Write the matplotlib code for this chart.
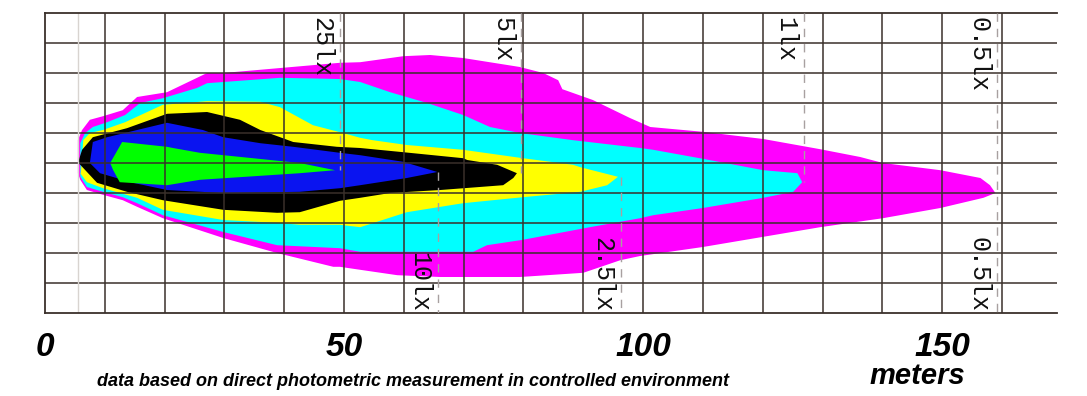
import numpy as np
from matplotlib import pyplot as plt

# Isolux contours, distance along beam (m) and lateral offset (m)
magenta_x = [5.5, 5.5, 6.2, 7.5, 9.7, 13.0, 15.4, 20.4, 27.1, 29.8, 49.3, 52.7, 59.9, 64.4, 69.9,
             79.4, 83.3, 85.8, 86.5, 91.6, 97.8, 101.2, 110.0, 120.1, 129.6, 136.3, 140.1, 149.7,
             156.4, 158.0, 158.9, 156.9, 149.7, 140.1, 129.6, 120.1, 110.0, 99.5, 96.2, 90.0,
             79.4, 66.1, 58.9, 52.7, 49.3, 48.2, 38.8, 29.8, 19.7, 15.4, 13.0, 9.7, 7.0, 5.9]
magenta_y = [-1.7, 3.8, 5.5, 7.2, 7.8, 8.8, 11.0, 11.8, 15.0, 15.0, 16.7, 16.8, 17.8, 18.0, 17.5,
             16.0, 15.0, 13.8, 12.3, 10.5, 7.5, 6.0, 5.2, 4.0, 2.3, 1.0, 0.0, -1.2,
             -2.5, -3.7, -5.0, -5.8, -7.5, -9.2, -10.7, -12.3, -14.0, -15.5, -16.2, -18.3,
             -19.0, -19.0, -18.7, -17.8, -17.3, -17.3, -15.0, -12.5, -9.2, -7.3, -6.2, -5.3, -4.5, -2.8]

cyan_x = [5.9, 5.9, 6.7, 8.0, 10.4, 13.4, 15.9, 19.7, 25.4, 27.1, 29.8, 39.3, 49.3, 52.7, 57.7,
          63.9, 69.9, 74.4, 79.4, 88.3, 99.5, 101.7, 110.0, 120.1, 125.8, 126.6, 125.1, 120.1,
          110.0, 101.7, 99.5, 91.1, 79.9, 73.9, 71.6, 60.5, 52.7, 49.3, 38.8, 29.8, 19.7, 15.4,
          13.0, 9.7, 7.0]
cyan_y = [-2.3, 3.3, 5.0, 6.0, 6.8, 8.0, 10.0, 10.8, 12.5, 13.3, 13.5, 14.2, 14.0, 13.5, 11.8,
          10.0, 8.0, 6.0, 5.0, 3.8, 2.5, 2.2, 0.7, -1.2, -1.7, -3.2, -4.8, -5.8,
          -7.5, -8.7, -9.2, -10.7, -12.8, -13.7, -14.8, -14.8, -14.8, -14.2, -13.7, -11.5, -8.7, -6.7,
          -5.7, -4.8, -4.0]

yellow_x = [6.0, 6.4, 7.5, 9.7, 13.4, 19.7, 27.1, 36.0, 39.3, 44.8, 49.8, 52.7, 54.8, 60.5, 69.9,
            79.9, 88.3, 89.5, 95.8, 94.0, 89.5, 79.9, 69.9, 60.5, 52.7, 49.3, 42.6, 39.3, 29.8,
            19.7, 15.4, 9.7, 7.0, 5.9]
yellow_y = [-1.7, 3.8, 5.0, 5.5, 6.8, 9.7, 10.3, 10.2, 9.3, 6.3, 5.0, 4.2, 3.8, 3.0, 2.2,
            0.8, -0.3, -0.7, -2.3, -3.7, -4.8, -5.7, -6.7, -8.2, -10.7, -10.3, -10.3, -10.0, -9.5,
            -7.8, -5.8, -4.2, -3.2, -1.7]

black_x = [5.5, 6.2, 8.0, 13.7, 20.4, 27.1, 32.6, 36.0, 41.5, 48.8, 52.7, 59.9, 69.9, 70.6, 75.6,
           78.9, 78.3, 76.6, 66.1, 57.7, 52.7, 49.3, 42.6, 38.8, 29.8, 19.7, 13.7, 8.7, 5.9]
black_y = [0.0, 2.2, 4.3, 5.8, 8.2, 8.5, 7.2, 5.5, 3.5, 2.7, 2.5, 1.8, 0.8, 0.5, -0.3,
           -1.7, -2.5, -3.7, -4.5, -5.0, -5.8, -6.3, -8.2, -8.3, -7.8, -6.2, -4.8, -3.3, -0.3]

blue_x = [7.5, 8.0, 10.4, 20.4, 26.4, 29.8, 36.0, 41.5, 49.3, 52.7, 59.9, 65.6, 60.5, 52.7, 49.3,
          42.6, 29.8, 20.4, 14.7, 9.2]
blue_y = [0.0, 3.5, 4.3, 6.7, 5.5, 4.3, 3.3, 2.7, 1.7, 1.3, 0.2, -1.5, -2.5, -3.7, -4.2,
          -4.8, -5.0, -4.5, -3.3, -1.7]

green_x = [10.9, 12.9, 20.4, 21.4, 25.9, 42.6, 48.5, 42.6, 25.9, 20.4, 12.5, 11.4]
green_y = [0.0, 3.5, 2.7, 2.5, 1.7, 0.0, -1.2, -1.7, -2.8, -3.7, -3.2, -1.2]

# reach of each level (dashed marker) and its label
level_labels = ['25lx', '10lx', '5lx', '2.5lx', '1lx', '0.5lx']
level_x = [49.3, 65.7, 79.6, 96.3, 126.9, 159.2]
level_tip = [-1.2, -1.5, -1.7, -2.3, -3.2, -5.0]
level_side = ['top', 'bottom', 'top', 'bottom', 'top', 'both']

x_ticks = [0, 50, 100, 150]

fig = plt.figure(figsize=(10.87, 3.96), dpi=100)
ax = fig.add_axes([45 / 1087, 1 - 313 / 396, 1012 / 1087, 300 / 396])

ax.fill(magenta_x, magenta_y, color='#ff00ff', lw=0, zorder=1)
ax.fill(cyan_x, cyan_y, color='#00ffff', lw=0, zorder=1)
ax.fill(yellow_x, yellow_y, color='#ffff00', lw=0, zorder=1)
ax.fill(black_x, black_y, color='#000000', lw=0, zorder=1)
ax.fill(blue_x, blue_y, color='#0a14f0', lw=0, zorder=1)
ax.fill(green_x, green_y, color='#00ff00', lw=0, zorder=1)

# grid
gc = '#3a302b'
for gx in range(10, 170, 10):
    ax.axvline(gx, color=gc, lw=1.1, zorder=2)
for gy in range(-20, 25, 5):
    ax.axhline(gy, color=gc, lw=1.1, zorder=2)
ax.axvline(5.5, color='#d8d4d0', lw=1, zorder=2)

# dashed reach lines + labels
for lab, lx, tip, side in zip(level_labels, level_x, level_tip, level_side):
    if side == 'top':
        ax.plot([lx, lx], [25, tip], color='#a8a0a0', lw=1, ls=(0, (6, 5)), zorder=3)
    elif side == 'bottom':
        ax.plot([lx, lx], [tip, -25], color='#a8a0a0', lw=1, ls=(0, (6, 5)), zorder=3)
    else:
        ax.plot([lx, lx], [25, -25], color='#a8a0a0', lw=1, ls=(0, (6, 5)), zorder=3)
    tx = lx - 3.1
    if side in ('top', 'both'):
        ax.text(tx, 24.4, lab, rotation=-90, ha='center', va='top', fontsize=18,
                family='Liberation Mono', color='#111111', zorder=4)
    if side in ('bottom', 'both'):
        ax.text(tx, -24.9, lab, rotation=-90, ha='center', va='bottom', fontsize=18,
                family='Liberation Mono', color='#111111', zorder=4)

ax.set_xlim(0, 169.2)
ax.set_ylim(-25, 25)
ax.spines['right'].set_visible(False)
for s in ['left', 'top', 'bottom']:
    ax.spines[s].set_color(gc)
    ax.spines[s].set_linewidth(1.3)
ax.set_yticks([])
ax.set_xticks(x_ticks)
ax.set_xticklabels([str(t) for t in x_ticks], fontsize=24, fontweight='bold',
                   fontstyle='italic', family='Liberation Sans')
ax.tick_params(axis='x', length=0, pad=14)

fig.text(965 / 1087, 1 - 376 / 396, 'meters', ha='right', va='center', fontsize=21,
         fontweight='bold', fontstyle='italic', family='Liberation Sans')
fig.text(413 / 1087, 1 - 381 / 396,
         'data based on direct photometric measurement in controlled environment',
         ha='center', va='center', fontsize=13, fontweight='bold', fontstyle='italic',
         family='Liberation Sans')

fig.savefig('out.png', dpi=100)
